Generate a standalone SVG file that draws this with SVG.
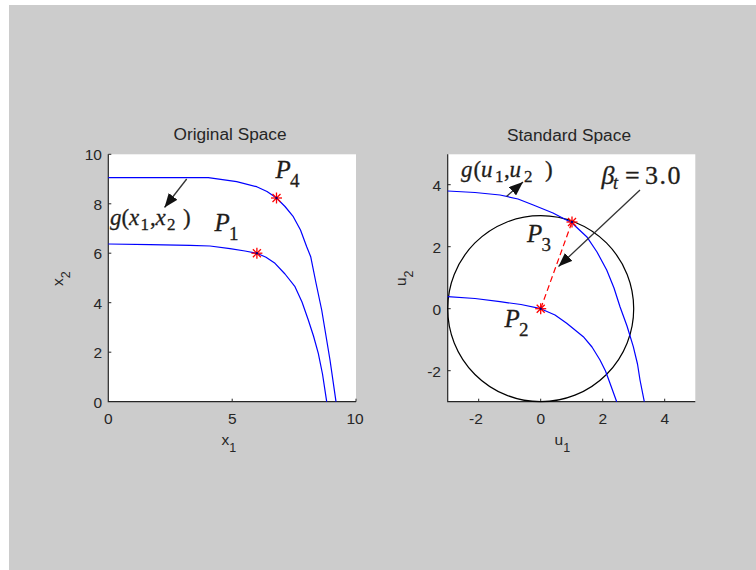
<svg xmlns="http://www.w3.org/2000/svg" width="756" height="570" viewBox="0 0 756 570">
<style>
.tick{font-family:"Liberation Sans",Arial,sans-serif;font-size:15.5px;fill:#262626}
.title{font-family:"Liberation Sans",Arial,sans-serif;font-size:16px;fill:#262626;text-anchor:middle}
.lab{font-family:"Liberation Sans",Arial,sans-serif;font-size:15.5px;fill:#262626}
.sub{font-size:12.5px}
.ax{stroke:#262626;stroke-width:1.2;fill:none}
.tk{stroke:#262626;stroke-width:1;fill:none}
.curve{stroke:#0000ff;stroke-width:1.2;fill:none;stroke-linejoin:round}
.star{stroke:#ff0000;stroke-width:1.3;fill:none}
.math{font-family:"Liberation Serif","Times New Roman",serif;fill:#1f1d1a;stroke:#1f1d1a;stroke-width:0.3}
.it{font-style:italic}
.arrow{stroke:#333333;stroke-width:1.3;fill:none}
</style>
<defs>
<marker id="ah" viewBox="0 0 14 11" refX="14" refY="5.5" markerWidth="14" markerHeight="11" markerUnits="userSpaceOnUse" orient="auto">
<path d="M0,0 L14,5.5 L0,11 z" fill="#111"/>
</marker>
<g id="starShape">
<line x1="-5.5" y1="0" x2="5.5" y2="0"/>
<line x1="0" y1="-5.5" x2="0" y2="5.5"/>
<line x1="-4" y1="-4" x2="4" y2="4"/>
<line x1="-4" y1="4" x2="4" y2="-4"/>
</g>
</defs>
<rect x="0" y="0" width="756" height="570" fill="#ffffff"/>
<rect id="figure-bg" x="9" y="5" width="747" height="565" fill="#cccccc"/>

<g id="left-plot">
<rect x="108.3" y="154.3" width="247.7" height="247.4" fill="#ffffff"/>
<text class="title" x="230" y="140" textLength="113" lengthAdjust="spacingAndGlyphs">Original Space</text>
<path class="ax" d="M108.3,154.3 V401.7 H356"/>
<path class="tk" d="M108.3,154.3 h3 M108.3,203.8 h3 M108.3,253.2 h3 M108.3,302.7 h3 M108.3,352.2 h3 M232.2,401.7 v-3 M356,401.7 v-3"/>
<g class="tick" text-anchor="end">
<text x="102" y="160">10</text>
<text x="102" y="209.5">8</text>
<text x="102" y="259">6</text>
<text x="102" y="308.5">4</text>
<text x="102" y="358">2</text>
<text x="102" y="407.5">0</text>
</g>
<g class="tick" text-anchor="middle">
<text x="108.3" y="424">0</text>
<text x="232.2" y="424">5</text>
<text x="355" y="424">10</text>
</g>
<text class="lab" x="221.5" y="445">x<tspan class="sub" dy="7">1</tspan></text>
<text class="lab" transform="translate(63,286) rotate(-90)" x="0" y="0">x<tspan class="sub" dy="7">2</tspan></text>
<path class="curve" d="M108.3,244 L150,244.6 L190,245.3 L210,246 L230,248.6 L245,251 L256.9,253.2 L266,257.3 L275,263.3 L285,274 L295,286.7 L302,302 L308.3,320 L313.5,336 L318.3,353.3 L322.5,374 L326.7,401.7"/>
<path class="curve" d="M108.3,177.7 L208.3,177.7 L236.7,181.7 L256.7,186.7 L267,191.5 L276.5,198 L285,206.5 L293.3,216.7 L300.5,230 L306.7,246.7 L310.7,256.7 L316,283 L321.7,310 L330,360 L336,401.7"/>
<use href="#starShape" class="star" x="256.9" y="253.2"/>
<use href="#starShape" class="star" x="276.5" y="198"/>
<circle cx="256.9" cy="253.2" r="1.2" fill="#000080"/>
<circle cx="276.5" cy="198" r="1.2" fill="#000080"/>
</g>

<g id="left-labels">
<text class="math" font-size="23" y="225"><tspan class="it" x="110">g</tspan><tspan x="121.5">(</tspan><tspan class="it" x="129">x</tspan><tspan x="140.5" dy="5" font-size="17">1</tspan><tspan x="150" dy="-5">,</tspan><tspan class="it" x="155.5">x</tspan><tspan x="167" dy="5" font-size="17">2</tspan><tspan x="183" dy="-5">)</tspan></text>
<text class="math" font-size="25" y="231"><tspan class="it" x="214.5">P</tspan><tspan x="229" dy="9" font-size="19">1</tspan></text>
<text class="math" font-size="25" y="178"><tspan class="it" x="275.5">P</tspan><tspan x="290" dy="9" font-size="19">4</tspan></text>
</g>

<g id="right-plot">
<rect x="447.7" y="154.3" width="247.6" height="247.4" fill="#ffffff"/>
<text class="title" x="569" y="140.5" textLength="124" lengthAdjust="spacingAndGlyphs">Standard Space</text>
<path class="ax" d="M447.7,154.3 V401.7 H695.3"/>
<path class="tk" d="M447.7,184.7 h3 M447.7,246.7 h3 M447.7,308.7 h3 M447.7,370.7 h3 M478.7,401.7 v-3 M540.7,401.7 v-3 M602.7,401.7 v-3 M664.7,401.7 v-3"/>
<g class="tick" text-anchor="end">
<text x="441" y="190.5">4</text>
<text x="441" y="252.5">2</text>
<text x="441" y="314.5">0</text>
<text x="441" y="376.5">-2</text>
</g>
<g class="tick" text-anchor="middle">
<text x="476" y="424">-2</text>
<text x="540.7" y="424">0</text>
<text x="602.7" y="424">2</text>
<text x="664.7" y="424">4</text>
</g>
<text class="lab" x="554.5" y="445">u<tspan class="sub" dy="7">1</tspan></text>
<text class="lab" transform="translate(406,286) rotate(-90)" x="0" y="0">u<tspan class="sub" dy="7">2</tspan></text>
<circle cx="540.7" cy="308.7" r="93" fill="none" stroke="#000" stroke-width="1.2"/>
<path class="curve" d="M447.7,191 L475,192.5 L500,195 L518,199 L533.3,205 L553,213 L571.7,222.7 L586.7,236.7 L597,252 L606.7,270 L614,288 L620,306.7 L627,326 L633.3,346.7 L637.5,364 L640,380 L644.3,401.7"/>
<path class="curve" d="M447.7,296.7 L475,298.5 L500,301.7 L521,304.5 L540.7,308.7 L555,315 L566.7,323.3 L583.3,336.7 L592,347 L600,360 L605.5,371 L610,383.3 L616.7,401.7"/>
<line x1="540.7" y1="308.7" x2="572" y2="222" stroke="#ff0000" stroke-width="1.2" stroke-dasharray="6,3.5"/>
<use href="#starShape" class="star" x="540.7" y="308.7"/>
<use href="#starShape" class="star" x="572" y="222"/>
<circle cx="540.7" cy="308.7" r="1.2" fill="#000080"/>
<circle cx="572" cy="222" r="1.2" fill="#000080"/>
</g>

<g id="right-labels">
<text class="math" font-size="23" y="177"><tspan class="it" x="461">g</tspan><tspan x="473.5">(</tspan><tspan class="it" x="481">u</tspan><tspan x="495" dy="5" font-size="17">1</tspan><tspan x="504" dy="-5">,</tspan><tspan class="it" x="509.5">u</tspan><tspan x="524" dy="5" font-size="17">2</tspan><tspan x="545" dy="-5">)</tspan></text>
<text class="math" font-size="26" y="184"><tspan class="it" x="601.5">β</tspan><tspan class="it" x="613" dy="5" font-size="18">t</tspan><tspan x="625" dy="-5">=</tspan><tspan x="645" letter-spacing="1.5">3.0</tspan></text>
<text class="math" font-size="25" y="242"><tspan class="it" x="527">P</tspan><tspan x="541.5" dy="9" font-size="19">3</tspan></text>
<text class="math" font-size="25" y="327"><tspan class="it" x="504.5">P</tspan><tspan x="519" dy="9" font-size="19">2</tspan></text>
</g>

<g id="connectors">
<line class="arrow" x1="186.7" y1="179" x2="164.5" y2="207.5" marker-end="url(#ah)"/>
<line class="arrow" x1="506.5" y1="196.5" x2="523" y2="182" marker-end="url(#ah)"/>
<line class="arrow" x1="640" y1="190" x2="558.5" y2="266.5" marker-end="url(#ah)"/>
</g>
</svg>
